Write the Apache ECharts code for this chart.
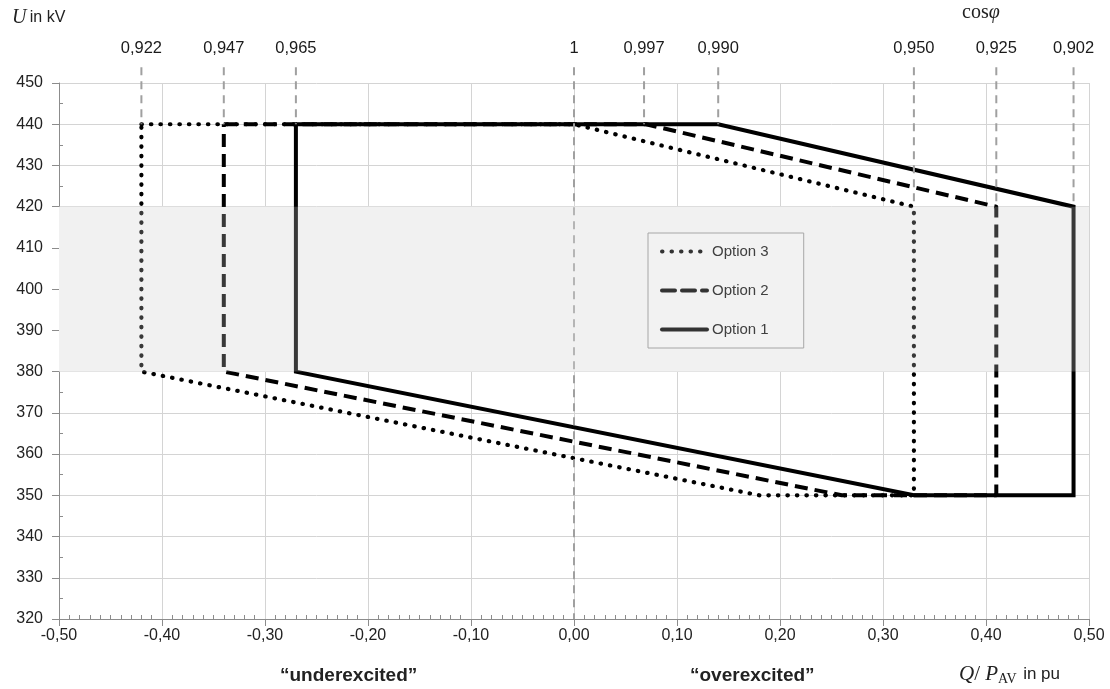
<!DOCTYPE html>
<html><head><meta charset="utf-8">
<script src="https://cdn.jsdelivr.net/npm/echarts@6/dist/echarts.min.js"></script>
<style>html,body{margin:0;padding:0;background:#fff}#c{width:1110px;height:689px}</style>
</head><body><div id="c"></div>
<script>
// ---- data ----
const option1X = [-0.27, 0.14, 0.485, 0.485, 0.33, -0.27, -0.27];
const option1Y = [440, 440, 420, 350, 350, 380, 440];
const option2X = [-0.34, 0.07, 0.41, 0.41, 0.26, -0.34, -0.34];
const option2Y = [440, 440, 420, 350, 350, 380, 440];
const option3X = [-0.42, 0.0, 0.33, 0.33, 0.18, -0.42, -0.42];
const option3Y = [440, 440, 420, 350, 350, 380, 440];
const cosPhiX = [-0.42, -0.34, -0.27, 0.0, 0.068, 0.14, 0.33, 0.41, 0.485];
const cosPhiEndY = [440, 440, 440, 320, 440, 440, 420, 420, 420];
const cosPhiLabels = ['0,922', '0,947', '0,965', '1', '0,997', '0,990', '0,950', '0,925', '0,902'];
const bandRange = [380, 420];
const seriesNames = ['Option 3', 'Option 2', 'Option 1'];

const SANS = '"Liberation Sans", Arial, sans-serif';
const SERIF = '"Liberation Serif", "Times New Roman", serif';
const refTop = 453.8, refLabelY = 458.4;

const zip = (xs, ys) => xs.map((x, i) => [x, ys[i]]);
const fmtX = v => (Math.round(v * 100) / 100).toFixed(2).replace('.', ',');

const series = [];
// band base
series.push({type: 'line', data: [], z: 1, silent: true,
  markArea: {silent: true, z: 1, itemStyle: {color: '#eeeeee'}, data: [[{yAxis: bandRange[0]}, {yAxis: bandRange[1]}]]}});
// options
series.push({name: 'Option 3', type: 'line', data: zip(option3X, option3Y), symbol: 'none', z: 3,
  lineStyle: {color: '#000', width: 4.2, type: [0.5, 9], cap: 'round', join: 'round'}, itemStyle: {color: '#000'}});
series.push({name: 'Option 2', type: 'line', data: zip(option2X, option2Y), symbol: 'none', z: 3,
  lineStyle: {color: '#000', width: 4, type: [13, 7], join: 'round'}, itemStyle: {color: '#000'}});
series.push({name: 'Option 1', type: 'line', data: zip(option1X, option1Y), symbol: 'none', z: 3,
  lineStyle: {color: '#000', width: 4, type: 'solid', join: 'miter'}, itemStyle: {color: '#000'}});
// cos phi reference lines
cosPhiX.forEach((x, i) => {
  series.push({type: 'line', data: [[x, refTop], [x, cosPhiEndY[i]]], symbol: 'none', clip: false, z: 4, silent: true,
    lineStyle: {color: '#a0a0a0', width: 2, type: [8, 6]}});
});
// cos phi labels
series.push({type: 'scatter', clip: false, z: 6, silent: true, symbolSize: 2, itemStyle: {color: 'rgba(0,0,0,0)'},
  data: cosPhiX.map((x, i) => ({value: [x, refLabelY], label: {formatter: cosPhiLabels[i]}})),
  label: {show: true, position: 'inside', color: '#1a1a1a', opacity: 1, textBorderWidth: 0, fontSize: 16.5, fontFamily: SANS}});
// band overlay
series.push({type: 'line', data: [], z: 5, silent: true,
  markArea: {silent: true, z: 5, itemStyle: {color: 'rgba(255,255,255,0.22)'}, data: [[{yAxis: bandRange[0]}, {yAxis: bandRange[1]}]]}});

const option = {
  animation: false,
  backgroundColor: '#fff',
  grid: {left: 59, right: 21, top: 83, bottom: 70, containLabel: false, outerBoundsMode: 'none'},
  legend: {
    data: seriesNames, orient: 'vertical', left: 648, top: 233, z: 10,
    backgroundColor: '#f2f2f2', borderColor: '#a6a6a6', borderWidth: 1, borderRadius: 0,
    padding: [11, 35, 11, 12], itemWidth: 45, itemHeight: 14, itemGap: 24, itemTextGap: 10,
    itemStyle: {color: 'rgba(0,0,0,0)', borderColor: 'rgba(0,0,0,0)', borderWidth: 0},
    lineStyle: {width: 4, cap: 'round', color: '#333'},
    textStyle: {fontSize: 15, color: '#404040', fontFamily: SANS}
  },
  xAxis: [{
    type: 'value', min: -0.5, max: 0.5, interval: 0.1,
    axisLine: {show: true, onZero: false, lineStyle: {color: '#8c8c8c', width: 1}},
    axisTick: {show: true, inside: false, length: 7, lineStyle: {color: '#8c8c8c'}},
    axisLabel: {formatter: fmtX, fontSize: 16, color: '#222', fontFamily: SANS, margin: 9},
    splitLine: {show: true, lineStyle: {color: '#d4d4d4', width: 1}}
  }, {
    type: 'value', min: -0.5, max: 0.5, interval: 0.1, position: 'bottom',
    axisLine: {show: false, onZero: false}, axisLabel: {show: false}, splitLine: {show: false},
    axisTick: {show: false, inside: true},
    minorTick: {show: true, splitNumber: 10, length: 4, lineStyle: {color: '#8c8c8c'}}
  }],
  yAxis: [{
    type: 'value', min: 320, max: 450, interval: 10,
    axisLine: {show: true, onZero: false, lineStyle: {color: '#8c8c8c', width: 1}},
    axisTick: {show: true, inside: false, length: 7, lineStyle: {color: '#8c8c8c'}},
    axisLabel: {fontSize: 16, color: '#222', fontFamily: SANS, margin: 16},
    splitLine: {show: true, lineStyle: {color: '#d4d4d4', width: 1}}
  }, {
    type: 'value', min: 320, max: 450, interval: 10, position: 'left',
    axisLine: {show: false, onZero: false}, axisLabel: {show: false}, splitLine: {show: false},
    axisTick: {show: false, inside: true},
    minorTick: {show: true, splitNumber: 2, length: 4, lineStyle: {color: '#8c8c8c'}}
  }],
  series: series,
  graphic: [
    {type: 'text', left: 12, top: 8, style: {
      text: '{i|U} {n|in kV}', rich: {
        i: {fontFamily: SERIF, fontStyle: 'italic', fontSize: 20, fill: '#222'},
        n: {fontFamily: SANS, fontSize: 16, fill: '#222'}}}},
    {type: 'text', left: 962, top: 3, style: {
      text: '{n|cos}{i|φ}', rich: {
        n: {fontFamily: SERIF, fontSize: 20, fill: '#222'},
        i: {fontFamily: SERIF, fontStyle: 'italic', fontSize: 20, fill: '#222'}}}},
    {type: 'text', left: 959, top: 664, style: {
      text: '{i|Q}{n|/ }{i|P}{s|AV}  {m|in pu}', rich: {
        i: {fontFamily: SERIF, fontStyle: 'italic', fontSize: 21, fill: '#222'},
        n: {fontFamily: SERIF, fontSize: 21, fill: '#222'},
        s: {fontFamily: SERIF, fontSize: 14, fill: '#222', padding: [10, 0, 0, 0]},
        m: {fontFamily: SANS, fontSize: 17, fill: '#222'}}}},
    {type: 'text', left: 280, top: 666, style: {text: '\u201Cunderexcited\u201D', font: 'bold 19px ' + SANS, fill: '#222'}},
    {type: 'text', left: 690, top: 666, style: {text: '\u201Coverexcited\u201D', font: 'bold 19px ' + SANS, fill: '#222'}}
  ]
};
const chart = echarts.init(document.getElementById('c'), null, {renderer: 'canvas'});
chart.setOption(option);
</script></body></html>
